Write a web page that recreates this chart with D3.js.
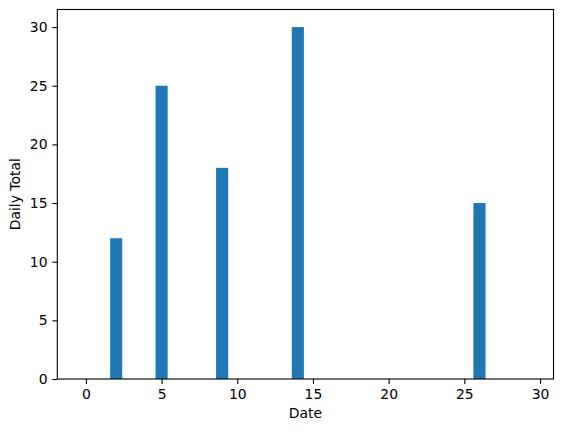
<!DOCTYPE html>
<html>
<head>
<meta charset="utf-8">
<script src="https://cdn.jsdelivr.net/npm/d3@7"></script>
<style>
  body { margin: 0; background: #fff; }
  svg text { font-family: "DejaVu Sans", sans-serif; font-size: 13.9px; fill: #000; }
</style>
</head>
<body>
<svg id="chart" width="562" height="432"></svg>
<script>
// days of the month and the daily totals (zero on days with nothing)
var days = d3.range(0, 30);
var totals = [0, 0, 12, 0, 0, 25, 0, 0, 0, 18, 0, 0, 0, 0, 30,
              0, 0, 0, 0, 0, 0, 0, 0, 0, 0, 0, 15, 0, 0, 0];
var xTicks = [0, 5, 10, 15, 20, 25, 30];
var yTicks = [0, 5, 10, 15, 20, 25, 30];

var barWidth = 0.8;
var svg = d3.select("#chart");

// axes box, in pixels (window.top is taken, so prefix the names)
var plotLeft = 57.3, plotRight = 553.5, plotTop = 9.5, plotBottom = 379;

// matplotlib style 5% margins round the data
var xMin = d3.min(days) - barWidth / 2,
    xMax = d3.max(days) + barWidth / 2,
    xPad = (xMax - xMin) * 0.05;
var yMax = d3.max(totals);

var xScale = d3.scaleLinear()
    .domain([xMin - xPad, xMax + xPad])
    .range([plotLeft, plotRight]);

var yScale = d3.scaleLinear()
    .domain([0, yMax * 1.05])
    .range([plotBottom, plotTop]);

// bars
svg.append("g")
    .selectAll("rect")
    .data(days)
    .enter()
    .append("rect")
    .attr("x", function(d) { return xScale(d - barWidth / 2); })
    .attr("width", function(d) { return xScale(barWidth) - xScale(0); })
    .attr("y", function(d, i) { return yScale(totals[i]); })
    .attr("height", function(d, i) { return yScale(0) - yScale(totals[i]); })
    .style("fill", "#1f77b4");

// axes
var xAxis = d3.axisBottom(xScale)
    .tickValues(xTicks)
    .tickSize(4.9)
    .tickPadding(4.9)
    .tickSizeOuter(0);

var yAxis = d3.axisLeft(yScale)
    .tickValues(yTicks)
    .tickSize(4.9)
    .tickPadding(4.9)
    .tickSizeOuter(0);

var gx = svg.append("g")
    .attr("transform", "translate(0," + plotBottom + ")")
    .call(xAxis);
var gy = svg.append("g")
    .attr("transform", "translate(" + plotLeft + ",0)")
    .call(yAxis);

[gx, gy].forEach(function(g) {
    g.select(".domain").remove();
    g.selectAll(".tick line").attr("stroke", "#000").attr("stroke-width", 1.1);
    g.selectAll(".tick text").attr("font-family", null).attr("font-size", null);
});

// frame
svg.append("rect")
    .attr("x", plotLeft)
    .attr("y", plotTop)
    .attr("width", plotRight - plotLeft)
    .attr("height", plotBottom - plotTop)
    .attr("fill", "none")
    .attr("stroke", "#000")
    .attr("stroke-width", 1.1);

// axis titles
svg.append("text")
    .attr("x", (plotLeft + plotRight) / 2)
    .attr("y", 418)
    .attr("text-anchor", "middle")
    .text("Date");

svg.append("text")
    .attr("transform", "translate(20," + ((plotTop + plotBottom) / 2) + ") rotate(-90)")
    .attr("text-anchor", "middle")
    .text("Daily Total");
</script>
</body>
</html>
